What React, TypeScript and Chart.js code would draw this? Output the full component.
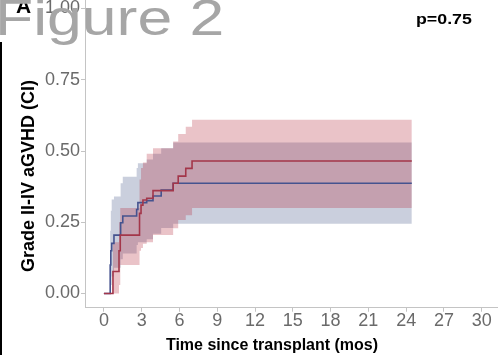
import React, { useEffect, useRef } from 'react';
import { Chart, registerables } from 'chart.js';

Chart.register(...registerables);

// ---- data ----
const blueTime = [0, 0.5, 0.55, 0.62, 0.8, 1.33, 1.5, 2.6, 2.7, 3.4, 3.9, 4.55, 5.5, 24.45];
const blueEst = [0, 0.1, 0.15, 0.176, 0.205, 0.248, 0.272, 0.295, 0.319, 0.326, 0.342, 0.363, 0.387, 0.387];
const blueLow = [0, 0.0, 0.03, 0.06, 0.09, 0.12, 0.14, 0.17, 0.18, 0.19, 0.21, 0.23, 0.245, 0.245];
const blueUp = [0, 0.22, 0.29, 0.33, 0.34, 0.387, 0.41, 0.44, 0.457, 0.47, 0.49, 0.51, 0.53, 0.53];

const redTime = [0, 0.72, 1.2, 1.3, 2.83, 2.95, 3.1, 3.4, 3.9, 5.5, 5.9, 6.5, 7.0, 24.45];
const redEst = [0, 0.077, 0.15, 0.205, 0.281, 0.31, 0.328, 0.334, 0.361, 0.387, 0.412, 0.439, 0.465, 0.465];
const redLow = [0, 0.0, 0.03, 0.1, 0.15, 0.16, 0.175, 0.18, 0.205, 0.229, 0.258, 0.275, 0.3, 0.3];
const redUp = [0, 0.18, 0.25, 0.3, 0.4, 0.44, 0.46, 0.49, 0.51, 0.533, 0.56, 0.585, 0.61, 0.61];

const xTicks = [0, 3, 6, 9, 12, 15, 18, 21, 24, 27, 30];
const xTickLabels = ['0', '3', '6', '9', '12', '15', '18', '21', '24', '27', '30'];
const yTicks = [0, 0.25, 0.5, 0.75, 1];
const yTickLabels = ['0.00', '0.25', '0.50', '0.75', '1.00'];

const xTitle = 'Time since transplant (mos)';
const yTitle = 'Grade II-IV aGVHD (CI)';
const pText = 'p=0.75';
const figText = 'Figure 2';
const panelText = 'A';

const toPts = (t: number[], v: number[]) => t.map((x, i) => ({ x, y: v[i] }));

const TICK_FONT = '"Liberation Sans Narrow", "Arial Narrow", "Liberation Sans", Arial, sans-serif';
const SANS = '"Liberation Sans", Arial, Helvetica, sans-serif';

export default function App() {
  const ref = useRef<HTMLCanvasElement | null>(null);

  useEffect(() => {
    if (!ref.current) return;
    const chart = new Chart(ref.current, {
      type: 'line',
      data: {
        datasets: [
          {
            label: 'red',
            data: toPts(redTime, redEst),
            borderColor: '#a3364a',
            borderWidth: 1.6,
            pointRadius: 0,
            stepped: 'before',
            fill: false,
          },
          {
            label: 'blue',
            data: toPts(blueTime, blueEst),
            borderColor: '#45538f',
            borderWidth: 1.6,
            pointRadius: 0,
            stepped: 'before',
            fill: false,
          },
          {
            label: 'redUp',
            data: toPts(redTime, redUp),
            borderWidth: 0,
            borderColor: 'rgba(0,0,0,0)',
            backgroundColor: 'rgba(178,34,52,0.27)',
            pointRadius: 0,
            stepped: 'before',
            fill: '+1',
          },
          {
            label: 'redLow',
            data: toPts(redTime, redLow),
            borderWidth: 0,
            borderColor: 'rgba(0,0,0,0)',
            pointRadius: 0,
            stepped: 'before',
            fill: false,
          },
          {
            label: 'blueUp',
            data: toPts(blueTime, blueUp),
            borderWidth: 0,
            borderColor: 'rgba(0,0,0,0)',
            backgroundColor: 'rgba(44,62,120,0.25)',
            pointRadius: 0,
            stepped: 'before',
            fill: '+1',
          },
          {
            label: 'blueLow',
            data: toPts(blueTime, blueLow),
            borderWidth: 0,
            borderColor: 'rgba(0,0,0,0)',
            pointRadius: 0,
            stepped: 'before',
            fill: false,
          },
        ],
      },
      options: {
        animation: false,
        responsive: false,
        devicePixelRatio: 1,
        layout: { padding: { top: 14.25, right: 19.4, bottom: 0, left: 0 } },
        plugins: {
          legend: { display: false },
          tooltip: { enabled: false },
          title: { display: false },
        },
        scales: {
          x: {
            type: 'linear',
            min: -1.5,
            max: 31.5,
            afterBuildTicks: (s: any) => {
              s.ticks = xTicks.map((v) => ({ value: v }));
            },
            afterFit: (s: any) => {
              s.height = 52.25;
            },
            ticks: {
              autoSkip: false,
              maxRotation: 0,
              color: '#6a6a6a',
              padding: 0,
              font: { family: TICK_FONT, size: 18, lineHeight: 1 },
              callback: (v: any) => xTickLabels[xTicks.indexOf(Number(v))] ?? '',
            },
            grid: { drawOnChartArea: false, tickLength: 4, color: '#c4c4c4' },
            border: { color: '#c4c4c4', width: 1 },
          },
          y: {
            type: 'linear',
            min: -0.05,
            max: 1.05,
            afterBuildTicks: (s: any) => {
              s.ticks = yTicks.map((v) => ({ value: v }));
            },
            afterFit: (s: any) => {
              s.width = 85;
            },
            ticks: {
              color: '#6a6a6a',
              padding: 1,
              font: { family: TICK_FONT, size: 18, lineHeight: 1 },
              callback: (v: any) => yTickLabels[yTicks.indexOf(Number(v))] ?? '',
            },
            grid: { drawOnChartArea: false, tickLength: 4, color: '#c4c4c4' },
            border: { color: '#c4c4c4', width: 1 },
          },
        },
      } as any,
    });
    return () => chart.destroy();
  }, []);

  return (
    <div
      style={{
        position: 'fixed',
        left: 0,
        top: 0,
        width: 498,
        height: 355,
        overflow: 'hidden',
        background: '#ffffff',
      }}
    >
      <canvas
        ref={ref}
        width={520}
        height={380}
        style={{ position: 'absolute', left: 0, top: -20, width: 520, height: 380 }}
      />
      <div style={{ position: 'absolute', left: 0, top: 42, width: 2, height: 313, background: '#000' }} />
      <div
        style={{
          position: 'absolute',
          left: 16,
          top: 13 - 0.8465 * 21,
          font: `bold 21px ${SANS}`,
          lineHeight: 1,
          color: '#000',
          whiteSpace: 'nowrap',
        }}
      >
        {panelText}
      </div>
      <div
        style={{
          position: 'absolute',
          left: -5,
          top: 35 - 0.8465 * 50,
          font: `50px ${SANS}`,
          lineHeight: 1,
          color: '#a6a6a6',
          whiteSpace: 'nowrap',
          transform: 'scaleX(1.25)',
          transformOrigin: 'left top',
        }}
      >
        {figText}
      </div>
      <div
        style={{
          position: 'absolute',
          left: 416,
          top: 24 - 0.8465 * 14,
          font: `bold 14px ${SANS}`,
          lineHeight: 1,
          color: '#000',
          whiteSpace: 'nowrap',
          transform: 'scaleX(1.27)',
          transformOrigin: 'left top',
        }}
      >
        {pText}
      </div>
      <div
        style={{
          position: 'absolute',
          left: 0,
          width: 544,
          top: 351 - 0.8465 * 16,
          font: `bold 16px ${SANS}`,
          lineHeight: 1,
          color: '#000',
          textAlign: 'center',
          whiteSpace: 'nowrap',
        }}
      >
        {xTitle}
      </div>
      <div
        style={{
          position: 'absolute',
          left: 28 - 150,
          top: 175.5 - 9,
          width: 300,
          height: 18,
          font: `bold 18px ${SANS}`,
          lineHeight: 1,
          color: '#000',
          textAlign: 'center',
          whiteSpace: 'nowrap',
          transform: 'rotate(-90deg)',
          transformOrigin: 'center center',
        }}
      >
        {yTitle}
      </div>
    </div>
  );
}
